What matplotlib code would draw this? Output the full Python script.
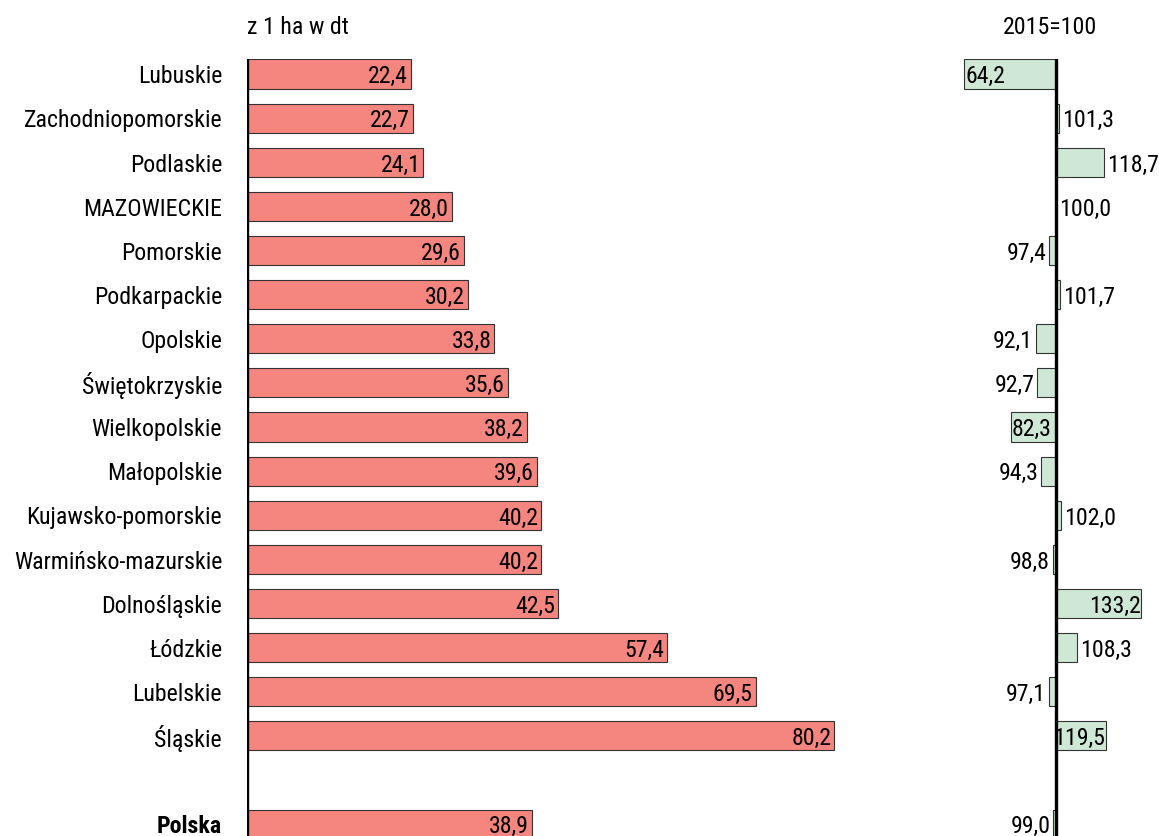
import numpy as np
import matplotlib.pyplot as plt
from matplotlib import font_manager

# narrow font if one is there
names = {f.name for f in font_manager.fontManager.ttflist}
fam = [n for n in ['Liberation Sans Narrow', 'DejaVu Sans Condensed', 'Roboto Condensed',
                   'Roboto', 'Liberation Sans'] if n in names]
plt.rcParams['font.family'] = fam[:1] + ['DejaVu Sans']
FS = 17.2

regions = ['Lubuskie', 'Zachodniopomorskie', 'Podlaskie', 'MAZOWIECKIE', 'Pomorskie',
           'Podkarpackie', 'Opolskie', 'Świętokrzyskie', 'Wielkopolskie', 'Małopolskie',
           'Kujawsko-pomorskie', 'Warmińsko-mazurskie', 'Dolnośląskie', 'Łódzkie',
           'Lubelskie', 'Śląskie', 'Polska']
yields = [22.4, 22.7, 24.1, 28.0, 29.6, 30.2, 33.8, 35.6, 38.2, 39.6, 40.2, 40.2,
          42.5, 57.4, 69.5, 80.2, 38.9]
index = [64.2, 101.3, 118.7, 100.0, 97.4, 101.7, 92.1, 92.7, 82.3, 94.3, 102.0, 98.8,
         133.2, 108.3, 97.1, 119.5, 99.0]
# where the index label goes: inside the bar or outside it
label_inside = [True, False, False, False, False, False, False, False, True, False,
                False, False, True, False, False, True, False]

pos = np.r_[np.arange(16), 17]

W, H = 1159, 837
fig = plt.figure(figsize=(W / 100, H / 100), dpi=100)

top_px, bot_px = 60, 837
ylo, yhi = 17.27, -0.34

ax1 = fig.add_axes([247 / W, 1 - bot_px / H, (900 - 247) / W, (bot_px - top_px) / H])
ax1.set_xlim(0, (900 - 247) / 7.32)
ax1.set_ylim(ylo, yhi)
ax1.barh(pos, yields, height=0.66, color='#F4857F', edgecolor='#333333', linewidth=0.8)
for p, v in zip(pos, yields):
    ax1.text(v - 0.4, p + 0.04, f'{v:.1f}'.replace('.', ','), ha='right', va='center',
             fontsize=FS)
ax1.axvline(0, color='black', lw=2.4)
ax1.axis('off')
for p, name in zip(pos, regions):
    ax1.text(-3.4, p + 0.04, name, ha='right', va='center', fontsize=FS,
             fontweight='bold' if name == 'Polska' else 'normal')

x0 = 940
ax2 = fig.add_axes([x0 / W, 1 - bot_px / H, (W - x0) / W, (bot_px - top_px) / H])
ax2.set_xlim(100 - (1056 - x0) / 2.57, 100 + (W - 1056) / 2.57)
ax2.set_ylim(ylo, yhi)
ax2.patch.set_alpha(0)
ax2.barh(pos, np.array(index) - 100, left=100, height=0.66, color='#CFE8D6',
         edgecolor='#333333', linewidth=0.8)
for p, v, inside in zip(pos, index, label_inside):
    s = f'{v:.1f}'.replace('.', ',')
    if v >= 100:
        if inside:
            ax2.text(v - 0.3, p + 0.04, s, ha='right', va='center', fontsize=FS)
        else:
            ax2.text(v + 1.2, p + 0.04, s, ha='left', va='center', fontsize=FS)
    else:
        if inside:
            ax2.text(v + 0.6, p + 0.04, s, ha='left', va='center', fontsize=FS)
        else:
            ax2.text(v - 1.2, p + 0.04, s, ha='right', va='center', fontsize=FS)
ax2.axvline(100, color='black', lw=2.4)
ax2.axis('off')

fig.text(247 / W, 1 - 28 / H, 'z 1 ha w dt', ha='left', va='center', fontsize=FS)
fig.text(1050 / W, 1 - 28 / H, '2015=100', ha='center', va='center', fontsize=FS)

fig.savefig('out.png', dpi=100)
